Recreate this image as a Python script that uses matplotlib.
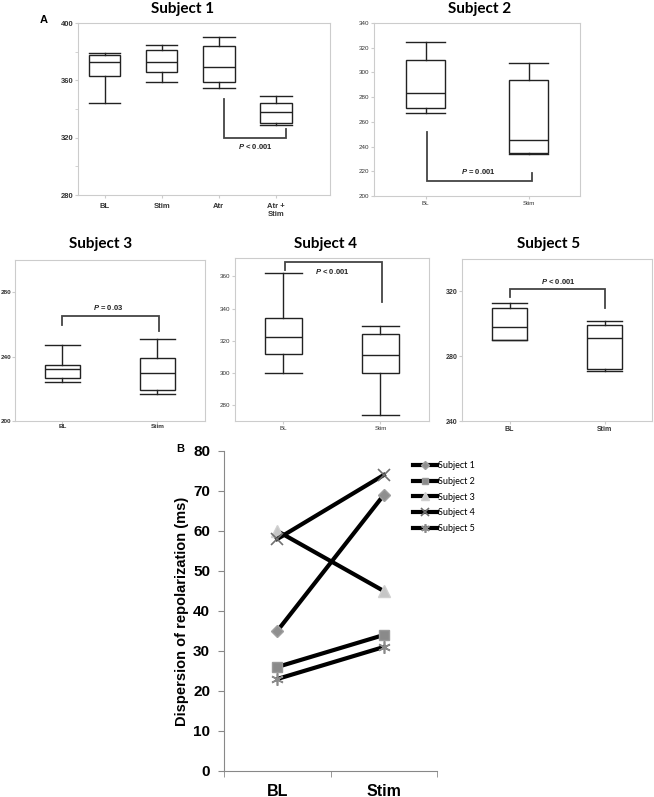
import numpy as np
import matplotlib
matplotlib.use('Agg')
import matplotlib.pyplot as plt
from matplotlib.ticker import MultipleLocator

plt.rcParams['font.family'] = ['Liberation Sans', 'DejaVu Sans']
plt.rcParams['mathtext.fontset'] = 'custom'
plt.rcParams['mathtext.it'] = 'Liberation Sans:italic:bold'

# ---- Panel A: box summaries (whisker low, q1, median, q3, whisker high)
s1_labels = ['BL', 'Stim', 'Atr', 'Atr +\nStim']
s1_boxes = [(344, 363, 373, 378, 379),
            (359, 366, 373, 381, 385),
            (355, 359, 369, 384, 390),
            (329, 330, 338, 344, 349)]
pair_labels = ['BL', 'Stim']
s2_boxes = [(267, 271, 283, 310, 325), (234, 235, 245, 294, 308)]
s3_boxes = [(224, 227, 232, 235, 247), (217, 219, 230, 239, 251)]
s4_boxes = [(300, 312, 322, 334, 362), (274, 300, 311, 324, 329)]
s5_boxes = [(290, 290, 298, 310, 313), (271, 272, 291, 299, 302)]
p_texts = ['$P$ < 0.001', '$P$ = 0.001', '$P$ = 0.03', '$P$ < 0.001', '$P$ < 0.001']

# ---- Panel B: dispersion of repolarization (ms)
b_cats = ['BL', 'Stim']
subjects = ['Subject 1', 'Subject 2', 'Subject 3', 'Subject 4', 'Subject 5']
disp_bl = [35, 26, 60, 58, 23]
disp_stim = [69, 34, 45, 74, 31]

W, H = 654, 797
fig = plt.figure(figsize=(W / 100, H / 100), dpi=100)


def rect(l, t, r, b):
    return [l / W, 1 - b / H, (r - l) / W, (b - t) / H]


def box_panel(r, boxes, labels, ylim, yticks, width, xlim, fs, bold, pad=1.5):
    ax = fig.add_axes(r)
    stats = [dict(whislo=b[0], q1=b[1], med=b[2], q3=b[3], whishi=b[4], fliers=[])
             for b in boxes]
    pos = np.arange(1, len(boxes) + 1)
    lp = dict(color='#222222', linewidth=1.0)
    ax.bxp(stats, positions=pos, widths=width, capwidths=width, patch_artist=True,
           boxprops=dict(facecolor='white', edgecolor='#222222', linewidth=1.0),
           whiskerprops=lp, capprops=lp, medianprops=lp, manage_ticks=False)
    ax.set_xlim(*xlim)
    ax.set_ylim(*ylim)
    ax.set_xticks(pos, labels)
    ax.set_yticks(yticks)
    for s in ax.spines.values():
        s.set_color('#cccccc')
        s.set_linewidth(0.8)
    wt = 'bold' if bold else 'normal'
    ax.tick_params(length=2, color='#cccccc', labelsize=fs, pad=pad, labelcolor='#333333')
    for t in ax.get_xticklabels() + ax.get_yticklabels():
        t.set_fontweight(wt)
    return ax


def bracket(ax, x1, y1, yb, x2, y2, tx, ty, txt, fs=5.5):
    ax.plot([x1, x1, x2, x2], [y1, yb, yb, y2], color='#444444', lw=1.3,
            solid_joinstyle='miter', clip_on=False)
    ax.text(tx, ty, txt, ha='center', va='center', fontsize=fs,
            fontweight='bold', color='#222222')


# Subject 1
ax1 = box_panel(rect(78, 23, 330, 195), s1_boxes, s1_labels, (280, 400),
                [280, 320, 360, 400], 0.55, (0.53, 4.95), 5.5, True)
ax1.yaxis.set_minor_locator(MultipleLocator(20))
ax1.tick_params(which='minor', length=2, color='#cccccc')
ax1.tick_params(axis='x', pad=4)
bracket(ax1, 3.09, 347, 320, 4.18, 326, 3.64, 314, p_texts[0])

# Subject 2
ax2 = box_panel(rect(374, 23, 580, 196), s2_boxes, pair_labels, (200, 340),
                np.arange(200, 341, 20), 0.37, (0.5, 2.5), 4.5, False)
bracket(ax2, 1.01, 252, 212, 2.03, 219, 1.51, 219.5, p_texts[1])

# Subject 3
ax3 = box_panel(rect(15, 260, 205, 421), s3_boxes, pair_labels, (200, 300),
                [200, 240, 280], 0.37, (0.5, 2.5), 4.6, True, pad=0.5)
bracket(ax3, 1.0, 259.4, 265.2, 2.02, 255.7, 1.48, 270.4, p_texts[2])

# Subject 4
ax4 = box_panel(rect(235, 258, 429, 421), s4_boxes, pair_labels, (270, 371.5),
                [280, 300, 320, 340, 360], 0.38, (0.5, 2.5), 4.5, False)
bracket(ax4, 1.02, 364, 369.2, 2.02, 344, 1.5, 363, p_texts[3])

# Subject 5
ax5 = box_panel(rect(462, 259, 652, 421), s5_boxes, pair_labels, (240, 340),
                [240, 280, 320], 0.37, (0.5, 2.5), 5, True)
bracket(ax5, 1.0, 316.7, 321.6, 2.01, 309.9, 1.51, 326, p_texts[4])

title_font = dict(fontsize=11, fontweight='bold', family='Lato', ha='center', va='baseline')
fig.text(183 / W, 1 - 13 / H, 'Subject 1', **title_font)
fig.text(480 / W, 1 - 13 / H, 'Subject 2', **title_font)
fig.text(101 / W, 1 - 248 / H, 'Subject 3', **title_font)
fig.text(325 / W, 1 - 248 / H, 'Subject 4', **title_font)
fig.text(549 / W, 1 - 248 / H, 'Subject 5', **title_font)
fig.text(44 / W, 1 - 20 / H, 'A', fontsize=8, fontweight='bold', ha='center', va='center')
fig.text(180 / W, 1 - 449 / H, 'B', fontsize=8, fontweight='bold', ha='center', va='center')

# ---- Panel B
axb = fig.add_axes(rect(224, 451, 437, 771))
markers = [dict(marker='D', ms=6.5, mfc='#8f8f8f', mec='#a0a0a0'),
           dict(marker='s', ms=7, mfc='#8a8a8a', mec='#9a9a9a'),
           dict(marker='^', ms=8, mfc='#c6c6c6', mec='#d0d0d0'),
           dict(marker='x', ms=8, mec='#707070', mew=1.2),
           dict(marker=(6, 2, 0), ms=9, mec='#8a8a8a', mew=1.2)]
xc = np.arange(len(b_cats))
for name, a, b, m in zip(subjects, disp_bl, disp_stim, markers):
    axb.plot(xc, [a, b], color='black', lw=3, label=name, **m)
axb.set_xlim(-0.5, 1.5)
axb.set_ylim(0, 80)
axb.set_yticks(np.arange(0, 81, 10))
axb.set_xticks(xc, b_cats)
axb.set_xticks([-0.5, 0.5, 1.5], minor=True)
axb.tick_params(axis='x', which='major', length=0, pad=9, labelsize=11.5)
axb.tick_params(axis='x', which='minor', length=4, color='#888888', direction='out')
axb.tick_params(axis='y', length=4, color='#888888', pad=6, labelsize=11)
for t in axb.get_xticklabels() + axb.get_yticklabels():
    t.set_fontweight('bold')
for s in ['top', 'right']:
    axb.spines[s].set_visible(False)
for s in ['left', 'bottom']:
    axb.spines[s].set_color('#888888')
    axb.spines[s].set_linewidth(0.8)
axb.set_ylabel('Dispersion of repolarization (ms)', fontsize=10.5, fontweight='bold', labelpad=3)
axb.legend(loc='upper left', bbox_to_anchor=(413 / W, 1 - 461 / H),
           bbox_transform=fig.transFigure, frameon=False,
           prop=dict(family='Lato', size=6.5), handlelength=2.7, handletextpad=0.1,
           labelspacing=0.75, borderpad=0, borderaxespad=0, markerscale=0.7)

fig.savefig('out.png', dpi=100)
